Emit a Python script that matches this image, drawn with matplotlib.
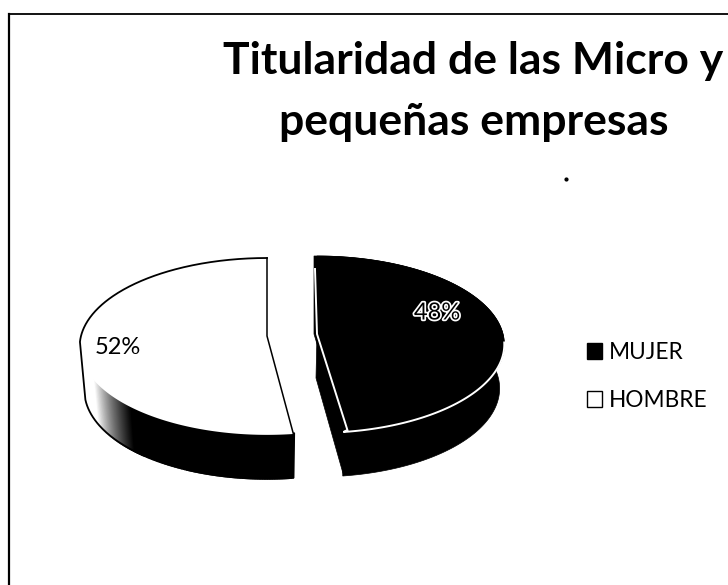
import numpy as np
import matplotlib
matplotlib.use('Agg')
import matplotlib.pyplot as plt
import matplotlib.patheffects as pe
from matplotlib.patches import Patch

# Data
categories = ['MUJER', 'HOMBRE']
percentages = [48, 52]
title_lines = ['Titularidad de las Micro y', 'pequeñas empresas']

# Look of the fake 3D pie, in pixels of the 728x585 image
W, H = 728, 585
RADIUS = 186
DEPTH = 44
TILT = 87.2
PERSP = 0.118
CENTERS = {'MUJER': (317, 334), 'HOMBRE': (267, 336)}

plt.rcParams['font.family'] = ['Lato', 'DejaVu Sans']

fig = plt.figure(figsize=(W / 100, H / 100), dpi=100)
ax = fig.add_axes([0, 0, 1, 1])
ax.set_xlim(0, W)
ax.set_ylim(H, 0)
ax.axis('off')


def project(center, theta, drop=0.0):
    # theta in degrees, back of the disc is up, lower rim shrinks a little
    t = np.radians(theta)
    u = np.cos(t)
    v = np.sin(t)
    scale = 1 / (1 + PERSP * v)
    shrink = 1 - 0.025 * drop / DEPTH
    x = center[0] + RADIUS * u * scale * shrink
    y = center[1] - TILT * v * scale + drop
    return x, y


# Angles from the values, clockwise from 12 o'clock
fractions = np.array(percentages) / sum(percentages)
ends = 90 - 360 * np.cumsum(fractions)
starts = np.r_[90, ends[:-1]]

# MUJER: side walls, then the top face
c = CENTERS['MUJER']
th = np.linspace(starts[0], ends[0], 200)
xt, yt = project(c, th)
xb, yb = project(c, th, drop=DEPTH)
ax.fill(np.r_[xt, xb[::-1]], np.r_[yt, yb[::-1]], color='black', lw=0.5, zorder=2)
ex, ey = project(c, ends[0])
fx, fy = project(c, ends[0], drop=DEPTH)
ax.fill([c[0], ex + 4, fx + 1, c[0] - 1], [c[1], ey, fy, c[1] + DEPTH], color='black', lw=0.5, zorder=2)
ax.fill(np.r_[c[0] - 3, c[0] - 3, xt], np.r_[c[1], yt[0], yt], color='black', lw=0.5, zorder=3)

# white edge on the MUJER top face: down the cut, then along the front rim
front = th < -5
ax.plot(np.r_[xt[front][0], xt[front], ex + 4, c[0], c[0] - 2],
        np.r_[yt[front][0], yt[front], ey - 2, c[1], c[1] - 65],
        color='white', lw=1.4, zorder=4, solid_joinstyle='miter')

# HOMBRE: wall fades from black to white towards the left
c = CENTERS['HOMBRE']
th = np.linspace(starts[1], ends[1], 400)
angle = (th + 360) % 360
xt, yt = project(c, th)
xb, yb = project(c, th, drop=DEPTH)
for i in range(len(th) - 1):
    if angle[i] < 192:
        continue
    g = np.clip((angle[i] - 208) / 20, 0, 1)
    ax.fill([xt[i], xt[i + 1], xb[i + 1], xb[i]], [yt[i], yt[i + 1], yb[i + 1], yb[i]],
            color=str(1 - g), lw=1.2, zorder=2)
ex, ey = project(c, ends[0])
fx, fy = project(c, ends[0], drop=DEPTH)
ax.fill([ex, ex + 1, fx + 1, fx], [ey - 1, ey - 1, fy, fy], color='black', lw=1, zorder=2)
ax.fill(np.r_[c[0], xt], np.r_[c[1], yt], facecolor='white', edgecolor='none', zorder=3)
ax.plot(np.r_[xt[0], c[0], xt[-1]], np.r_[yt[0], c[1], yt[-1]], color='black', lw=1.1, zorder=4)
# outline of the back rim and the silhouette of the pale end of the wall
back = angle < 184
pale = (angle > 192) & (angle < 232)
ax.plot(np.r_[xt[back][::-1], xb[pale][::-1]], np.r_[yt[back][::-1], yb[pale][::-1]],
        color='black', lw=1.3, zorder=4)

# Data labels
ax.text(437, 313, f'{percentages[0]}%', color='black', fontsize=17, ha='center', va='center', zorder=5,
        path_effects=[pe.withStroke(linewidth=2.5, foreground='white')])
ax.text(118, 347, f'{percentages[1]}%', color='black', fontsize=17, ha='center', va='center', zorder=5)

# Title
ax.text(473.5, 74, title_lines[0], fontsize=32, fontweight='bold', ha='center', va='baseline', color='black')
ax.text(473.5, 135, title_lines[1], fontsize=32, fontweight='bold', ha='center', va='baseline', color='black')

# Legend
handles = [Patch(facecolor='black', edgecolor='black', label=categories[0]),
           Patch(facecolor='white', edgecolor='black', label=categories[1])]
ax.legend(handles=handles, loc='upper left', bbox_to_anchor=(587 / W, 1 - 342 / H), frameon=False,
          fontsize=16.3, handlelength=0.68, handleheight=0.68, handletextpad=0.3, labelspacing=1.2,
          borderpad=0, borderaxespad=0)

# Frame around the chart, only top and left show in the scan
ax.plot([9, 9], [14, H], color='black', lw=1.6, zorder=1)
ax.plot([9, W], [14, 14], color='black', lw=1.3, zorder=1)

# Speck near the title
ax.plot([566], [179], marker='o', ms=2, color='black')

fig.savefig('out.png', dpi=100)
